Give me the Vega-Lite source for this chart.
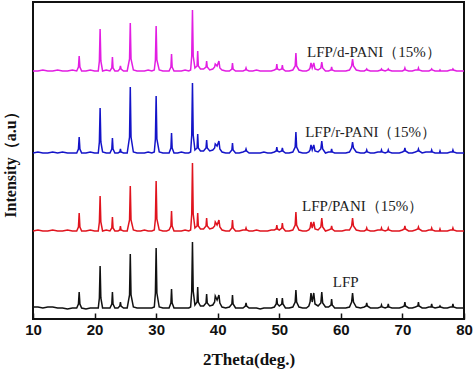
{
  "$schema": "https://vega.github.io/schema/vega-lite/v6.json",
  "autosize": "none",
  "width": 431,
  "height": 317,
  "padding": {"left": 33, "top": 2, "right": 10, "bottom": 56},
  "background": "white",
  "config": {"view": {"stroke": "#111", "strokeWidth": 2}},
  "layer": [
    {
      "data": {"values": [
        {"t":10.0,"LFP":12,"PANI":88,"rPANI":166,"dPANI":248},
        {"t":10.8,"LFP":12,"PANI":89,"rPANI":167,"dPANI":248},
        {"t":11.6,"LFP":11,"PANI":88,"rPANI":166,"dPANI":249},
        {"t":12.4,"LFP":12,"PANI":88,"rPANI":166,"dPANI":248},
        {"t":13.2,"LFP":12,"PANI":89,"rPANI":167,"dPANI":248},
        {"t":14.0,"LFP":11,"PANI":88,"rPANI":166,"dPANI":249},
        {"t":14.8,"LFP":11,"PANI":88,"rPANI":167,"dPANI":248},
        {"t":15.6,"LFP":10,"PANI":89,"rPANI":166,"dPANI":248},
        {"t":16.4,"LFP":11,"PANI":88,"rPANI":166,"dPANI":249},
        {"t":17.1,"LFP":11,"PANI":88,"rPANI":166,"dPANI":248},
        {"t":17.38,"LFP":15,"PANI":92,"rPANI":170,"dPANI":252},
        {"t":17.5,"LFP":27,"PANI":106,"rPANI":182,"dPANI":263},
        {"t":17.62,"LFP":15,"PANI":92,"rPANI":170,"dPANI":252},
        {"t":17.9,"LFP":11,"PANI":88,"rPANI":166,"dPANI":248},
        {"t":18.6,"LFP":10,"PANI":88,"rPANI":166,"dPANI":248},
        {"t":19.3,"LFP":11,"PANI":89,"rPANI":167,"dPANI":249},
        {"t":20.0,"LFP":11,"PANI":88,"rPANI":166,"dPANI":248},
        {"t":20.6,"LFP":11,"PANI":88,"rPANI":166,"dPANI":248},
        {"t":20.78,"LFP":21,"PANI":97,"rPANI":177,"dPANI":258},
        {"t":20.9,"LFP":53,"PANI":123,"rPANI":211,"dPANI":290},
        {"t":21.02,"LFP":21,"PANI":97,"rPANI":177,"dPANI":258},
        {"t":21.3,"LFP":11,"PANI":88,"rPANI":167,"dPANI":248},
        {"t":21.9,"LFP":11,"PANI":89,"rPANI":166,"dPANI":249},
        {"t":22.5,"LFP":11,"PANI":88,"rPANI":166,"dPANI":248},
        {"t":22.8,"LFP":15,"PANI":91,"rPANI":170,"dPANI":251},
        {"t":22.9,"LFP":27,"PANI":102,"rPANI":181,"dPANI":262},
        {"t":23.0,"LFP":15,"PANI":91,"rPANI":170,"dPANI":251},
        {"t":23.3,"LFP":11,"PANI":88,"rPANI":166,"dPANI":248},
        {"t":23.8,"LFP":11,"PANI":88,"rPANI":166,"dPANI":248},
        {"t":24.1,"LFP":13,"PANI":89,"rPANI":167,"dPANI":250},
        {"t":24.2,"LFP":17,"PANI":93,"rPANI":170,"dPANI":253},
        {"t":24.3,"LFP":13,"PANI":89,"rPANI":167,"dPANI":250},
        {"t":24.7,"LFP":11,"PANI":88,"rPANI":166,"dPANI":248},
        {"t":25.3,"LFP":11,"PANI":88,"rPANI":166,"dPANI":248},
        {"t":25.68,"LFP":24,"PANI":99,"rPANI":182,"dPANI":260},
        {"t":25.8,"LFP":65,"PANI":133,"rPANI":232,"dPANI":296},
        {"t":25.92,"LFP":24,"PANI":99,"rPANI":182,"dPANI":260},
        {"t":26.3,"LFP":12,"PANI":89,"rPANI":167,"dPANI":249},
        {"t":26.9,"LFP":11,"PANI":88,"rPANI":166,"dPANI":248},
        {"t":27.5,"LFP":11,"PANI":88,"rPANI":166,"dPANI":248},
        {"t":28.1,"LFP":11,"PANI":89,"rPANI":166,"dPANI":248},
        {"t":28.7,"LFP":11,"PANI":88,"rPANI":167,"dPANI":249},
        {"t":29.3,"LFP":11,"PANI":88,"rPANI":166,"dPANI":248},
        {"t":29.7,"LFP":12,"PANI":89,"rPANI":167,"dPANI":249},
        {"t":29.88,"LFP":26,"PANI":100,"rPANI":180,"dPANI":259},
        {"t":30.0,"LFP":71,"PANI":138,"rPANI":223,"dPANI":293},
        {"t":30.12,"LFP":26,"PANI":100,"rPANI":180,"dPANI":259},
        {"t":30.5,"LFP":12,"PANI":89,"rPANI":167,"dPANI":249},
        {"t":31.1,"LFP":11,"PANI":88,"rPANI":166,"dPANI":248},
        {"t":31.7,"LFP":11,"PANI":88,"rPANI":166,"dPANI":248},
        {"t":32.1,"LFP":11,"PANI":89,"rPANI":166,"dPANI":248},
        {"t":32.4,"LFP":16,"PANI":93,"rPANI":171,"dPANI":252},
        {"t":32.5,"LFP":30,"PANI":108,"rPANI":186,"dPANI":265},
        {"t":32.6,"LFP":16,"PANI":93,"rPANI":171,"dPANI":252},
        {"t":32.9,"LFP":11,"PANI":88,"rPANI":166,"dPANI":248},
        {"t":33.5,"LFP":11,"PANI":88,"rPANI":166,"dPANI":248},
        {"t":34.1,"LFP":11,"PANI":88,"rPANI":167,"dPANI":248},
        {"t":34.7,"LFP":11,"PANI":89,"rPANI":166,"dPANI":249},
        {"t":35.3,"LFP":11,"PANI":88,"rPANI":166,"dPANI":248},
        {"t":35.6,"LFP":12,"PANI":89,"rPANI":167,"dPANI":249},
        {"t":35.78,"LFP":28,"PANI":105,"rPANI":184,"dPANI":263},
        {"t":35.9,"LFP":77,"PANI":156,"rPANI":236,"dPANI":309},
        {"t":36.02,"LFP":28,"PANI":105,"rPANI":184,"dPANI":263},
        {"t":36.3,"LFP":14,"PANI":91,"rPANI":169,"dPANI":251},
        {"t":36.65,"LFP":17,"PANI":93,"rPANI":171,"dPANI":253},
        {"t":36.75,"LFP":32,"PANI":106,"rPANI":185,"dPANI":268},
        {"t":36.85,"LFP":17,"PANI":93,"rPANI":171,"dPANI":253},
        {"t":37.2,"LFP":13,"PANI":90,"rPANI":168,"dPANI":250},
        {"t":37.7,"LFP":13,"PANI":90,"rPANI":168,"dPANI":250},
        {"t":38.1,"LFP":16,"PANI":93,"rPANI":171,"dPANI":252},
        {"t":38.2,"LFP":25,"PANI":101,"rPANI":179,"dPANI":258},
        {"t":38.3,"LFP":16,"PANI":93,"rPANI":171,"dPANI":252},
        {"t":38.7,"LFP":13,"PANI":90,"rPANI":168,"dPANI":249},
        {"t":39.2,"LFP":14,"PANI":91,"rPANI":169,"dPANI":250},
        {"t":39.5,"LFP":17,"PANI":93,"rPANI":171,"dPANI":252},
        {"t":39.6,"LFP":23,"PANI":97,"rPANI":175,"dPANI":255},
        {"t":39.9,"LFP":19,"PANI":94,"rPANI":173,"dPANI":253},
        {"t":40.2,"LFP":24,"PANI":99,"rPANI":178,"dPANI":258},
        {"t":40.35,"LFP":16,"PANI":92,"rPANI":170,"dPANI":251},
        {"t":40.7,"LFP":12,"PANI":89,"rPANI":167,"dPANI":249},
        {"t":41.3,"LFP":11,"PANI":88,"rPANI":166,"dPANI":248},
        {"t":41.9,"LFP":12,"PANI":88,"rPANI":166,"dPANI":248},
        {"t":42.3,"LFP":15,"PANI":91,"rPANI":169,"dPANI":250},
        {"t":42.4,"LFP":24,"PANI":99,"rPANI":176,"dPANI":256},
        {"t":42.5,"LFP":15,"PANI":91,"rPANI":169,"dPANI":250},
        {"t":42.9,"LFP":11,"PANI":88,"rPANI":166,"dPANI":248},
        {"t":43.5,"LFP":11,"PANI":88,"rPANI":166,"dPANI":248},
        {"t":44.1,"LFP":11,"PANI":89,"rPANI":167,"dPANI":248},
        {"t":44.5,"LFP":13,"PANI":89,"rPANI":168,"dPANI":249},
        {"t":44.6,"LFP":16,"PANI":91,"rPANI":170,"dPANI":251},
        {"t":44.7,"LFP":13,"PANI":89,"rPANI":168,"dPANI":249},
        {"t":45.1,"LFP":11,"PANI":88,"rPANI":166,"dPANI":248},
        {"t":45.7,"LFP":11,"PANI":88,"rPANI":166,"dPANI":248},
        {"t":46.3,"LFP":11,"PANI":89,"rPANI":166,"dPANI":249},
        {"t":46.9,"LFP":10,"PANI":88,"rPANI":166,"dPANI":248},
        {"t":47.5,"LFP":11,"PANI":88,"rPANI":167,"dPANI":248},
        {"t":48.1,"LFP":11,"PANI":88,"rPANI":166,"dPANI":248},
        {"t":48.7,"LFP":11,"PANI":89,"rPANI":166,"dPANI":248},
        {"t":49.2,"LFP":12,"PANI":89,"rPANI":167,"dPANI":249},
        {"t":49.5,"LFP":15,"PANI":90,"rPANI":168,"dPANI":250},
        {"t":49.6,"LFP":21,"PANI":94,"rPANI":172,"dPANI":255},
        {"t":49.7,"LFP":15,"PANI":90,"rPANI":168,"dPANI":250},
        {"t":50.0,"LFP":13,"PANI":89,"rPANI":167,"dPANI":249},
        {"t":50.4,"LFP":15,"PANI":91,"rPANI":168,"dPANI":250},
        {"t":50.5,"LFP":21,"PANI":96,"rPANI":171,"dPANI":254},
        {"t":50.6,"LFP":15,"PANI":91,"rPANI":168,"dPANI":250},
        {"t":51.0,"LFP":11,"PANI":88,"rPANI":166,"dPANI":248},
        {"t":51.6,"LFP":11,"PANI":88,"rPANI":166,"dPANI":248},
        {"t":52.2,"LFP":12,"PANI":89,"rPANI":167,"dPANI":249},
        {"t":52.58,"LFP":17,"PANI":94,"rPANI":172,"dPANI":253},
        {"t":52.7,"LFP":29,"PANI":107,"rPANI":187,"dPANI":266},
        {"t":52.82,"LFP":17,"PANI":94,"rPANI":172,"dPANI":253},
        {"t":53.2,"LFP":12,"PANI":89,"rPANI":167,"dPANI":249},
        {"t":53.8,"LFP":11,"PANI":88,"rPANI":166,"dPANI":248},
        {"t":54.4,"LFP":11,"PANI":88,"rPANI":166,"dPANI":248},
        {"t":54.8,"LFP":13,"PANI":89,"rPANI":167,"dPANI":249},
        {"t":55.0,"LFP":17,"PANI":91,"rPANI":169,"dPANI":251},
        {"t":55.15,"LFP":26,"PANI":97,"rPANI":174,"dPANI":256},
        {"t":55.35,"LFP":17,"PANI":91,"rPANI":169,"dPANI":251},
        {"t":55.6,"LFP":26,"PANI":97,"rPANI":174,"dPANI":256},
        {"t":55.8,"LFP":15,"PANI":90,"rPANI":168,"dPANI":250},
        {"t":56.3,"LFP":13,"PANI":89,"rPANI":167,"dPANI":249},
        {"t":56.75,"LFP":16,"PANI":92,"rPANI":170,"dPANI":251},
        {"t":56.9,"LFP":27,"PANI":101,"rPANI":178,"dPANI":257},
        {"t":57.05,"LFP":16,"PANI":92,"rPANI":170,"dPANI":251},
        {"t":57.5,"LFP":12,"PANI":88,"rPANI":166,"dPANI":248},
        {"t":58.0,"LFP":12,"PANI":89,"rPANI":167,"dPANI":248},
        {"t":58.4,"LFP":14,"PANI":90,"rPANI":167,"dPANI":249},
        {"t":58.5,"LFP":20,"PANI":93,"rPANI":170,"dPANI":252},
        {"t":58.6,"LFP":14,"PANI":90,"rPANI":167,"dPANI":249},
        {"t":59.0,"LFP":11,"PANI":88,"rPANI":166,"dPANI":248},
        {"t":59.6,"LFP":11,"PANI":88,"rPANI":166,"dPANI":248},
        {"t":60.2,"LFP":11,"PANI":88,"rPANI":166,"dPANI":248},
        {"t":60.8,"LFP":11,"PANI":89,"rPANI":166,"dPANI":248},
        {"t":61.4,"LFP":12,"PANI":89,"rPANI":167,"dPANI":249},
        {"t":61.75,"LFP":17,"PANI":93,"rPANI":171,"dPANI":253},
        {"t":61.9,"LFP":26,"PANI":101,"rPANI":177,"dPANI":260},
        {"t":62.05,"LFP":17,"PANI":93,"rPANI":171,"dPANI":253},
        {"t":62.5,"LFP":12,"PANI":89,"rPANI":167,"dPANI":249},
        {"t":63.2,"LFP":11,"PANI":88,"rPANI":166,"dPANI":248},
        {"t":63.8,"LFP":12,"PANI":88,"rPANI":166,"dPANI":248},
        {"t":64.1,"LFP":13,"PANI":89,"rPANI":167,"dPANI":249},
        {"t":64.2,"LFP":16,"PANI":91,"rPANI":169,"dPANI":250},
        {"t":64.3,"LFP":13,"PANI":89,"rPANI":167,"dPANI":249},
        {"t":64.8,"LFP":11,"PANI":88,"rPANI":166,"dPANI":248},
        {"t":65.4,"LFP":11,"PANI":88,"rPANI":166,"dPANI":248},
        {"t":66.0,"LFP":11,"PANI":89,"rPANI":167,"dPANI":248},
        {"t":66.5,"LFP":12,"PANI":89,"rPANI":167,"dPANI":249},
        {"t":66.6,"LFP":14,"PANI":91,"rPANI":169,"dPANI":250},
        {"t":66.7,"LFP":12,"PANI":89,"rPANI":167,"dPANI":249},
        {"t":67.2,"LFP":11,"PANI":88,"rPANI":166,"dPANI":248},
        {"t":67.6,"LFP":12,"PANI":89,"rPANI":167,"dPANI":249},
        {"t":67.7,"LFP":15,"PANI":91,"rPANI":169,"dPANI":250},
        {"t":67.8,"LFP":12,"PANI":89,"rPANI":167,"dPANI":249},
        {"t":68.3,"LFP":11,"PANI":88,"rPANI":166,"dPANI":248},
        {"t":68.9,"LFP":11,"PANI":88,"rPANI":166,"dPANI":248},
        {"t":69.5,"LFP":11,"PANI":88,"rPANI":166,"dPANI":248},
        {"t":70.0,"LFP":12,"PANI":89,"rPANI":167,"dPANI":248},
        {"t":70.3,"LFP":13,"PANI":90,"rPANI":168,"dPANI":249},
        {"t":70.4,"LFP":17,"PANI":93,"rPANI":171,"dPANI":251},
        {"t":70.5,"LFP":13,"PANI":90,"rPANI":168,"dPANI":249},
        {"t":71.0,"LFP":11,"PANI":88,"rPANI":166,"dPANI":248},
        {"t":71.6,"LFP":11,"PANI":88,"rPANI":166,"dPANI":248},
        {"t":72.1,"LFP":12,"PANI":89,"rPANI":167,"dPANI":249},
        {"t":72.5,"LFP":13,"PANI":90,"rPANI":168,"dPANI":249},
        {"t":72.6,"LFP":17,"PANI":92,"rPANI":170,"dPANI":251},
        {"t":72.7,"LFP":13,"PANI":90,"rPANI":168,"dPANI":249},
        {"t":73.2,"LFP":11,"PANI":88,"rPANI":166,"dPANI":248},
        {"t":73.8,"LFP":11,"PANI":88,"rPANI":167,"dPANI":248},
        {"t":74.3,"LFP":12,"PANI":89,"rPANI":167,"dPANI":248},
        {"t":74.65,"LFP":12,"PANI":89,"rPANI":167,"dPANI":249},
        {"t":74.75,"LFP":15,"PANI":91,"rPANI":169,"dPANI":250},
        {"t":74.85,"LFP":12,"PANI":89,"rPANI":167,"dPANI":249},
        {"t":75.3,"LFP":11,"PANI":88,"rPANI":166,"dPANI":248},
        {"t":76.0,"LFP":12,"PANI":88,"rPANI":166,"dPANI":248},
        {"t":76.1,"LFP":13,"PANI":90,"rPANI":168,"dPANI":249},
        {"t":76.2,"LFP":12,"PANI":88,"rPANI":166,"dPANI":248},
        {"t":76.7,"LFP":11,"PANI":88,"rPANI":166,"dPANI":248},
        {"t":77.3,"LFP":11,"PANI":88,"rPANI":166,"dPANI":248},
        {"t":77.8,"LFP":12,"PANI":89,"rPANI":167,"dPANI":249},
        {"t":78.1,"LFP":12,"PANI":89,"rPANI":167,"dPANI":249},
        {"t":78.2,"LFP":15,"PANI":91,"rPANI":169,"dPANI":250},
        {"t":78.3,"LFP":12,"PANI":89,"rPANI":167,"dPANI":249},
        {"t":78.8,"LFP":11,"PANI":88,"rPANI":166,"dPANI":248},
        {"t":79.4,"LFP":11,"PANI":88,"rPANI":166,"dPANI":248},
        {"t":80.0,"LFP":11,"PANI":88,"rPANI":166,"dPANI":248}
      ]},
      "transform": [{"fold": ["LFP", "PANI", "rPANI", "dPANI"], "as": ["series", "v"]}],
      "mark": {"type": "line", "strokeWidth": 1.5, "interpolate": "linear"},
      "encoding": {
        "x": {
          "field": "t", "type": "quantitative",
          "scale": {"domain": [10, 80], "nice": false, "zero": false},
          "axis": {
            "title": "2Theta(deg.)",
            "titleFont": "Liberation Serif", "titleFontSize": 17, "titleFontWeight": "bold", "titleColor": "#111",
            "titlePadding": 14,
            "values": [10, 15, 20, 25, 30, 35, 40, 45, 50, 55, 60, 65, 70, 75, 80],
            "labelExpr": "datum.value % 10 === 0 ? datum.label : ''",
            "labelFont": "Liberation Sans", "labelFontSize": 15, "labelFontWeight": "bold", "labelColor": "#111",
            "labelPadding": 9,
            "tickSize": {"condition": {"test": "datum.value % 10 === 0", "value": -6}, "value": -3},
            "tickColor": "#111", "tickWidth": 1.5,
            "domain": false, "grid": false,
            "labelOverlap": false, "labelFlush": false
          }
        },
        "y": {
          "field": "v", "type": "quantitative",
          "scale": {"domain": [0, 317], "nice": false, "zero": false},
          "axis": {
            "title": "Intensity（a.u）",
            "titleFont": "Liberation Serif", "titleFontSize": 16, "titleFontWeight": "bold", "titleColor": "#111",
            "titlePadding": 15,
            "labels": false, "ticks": false, "domain": false, "grid": false
          }
        },
        "color": {
          "field": "series", "type": "nominal",
          "scale": {"domain": ["LFP", "PANI", "rPANI", "dPANI"], "range": ["#111111", "#e0141e", "#1414c8", "#e21ee2"]},
          "legend": null
        },
        "detail": {"field": "series"}
      }
    },
    {
      "data": {"values": [
        {"t": 54.5, "v": 267, "label": "LFP/d-PANI（15%）"},
        {"t": 54.2, "v": 187, "label": "LFP/r-PANI（15%）"},
        {"t": 53.7, "v": 113, "label": "LFP/PANI（15%）"},
        {"t": 58.7, "v": 37, "label": "LFP"}
      ]},
      "mark": {"type": "text", "align": "left", "baseline": "middle", "font": "Liberation Serif", "fontSize": 15, "color": "#222"},
      "encoding": {
        "x": {"field": "t", "type": "quantitative"},
        "y": {"field": "v", "type": "quantitative"},
        "text": {"field": "label"}
      }
    }
  ]
}
